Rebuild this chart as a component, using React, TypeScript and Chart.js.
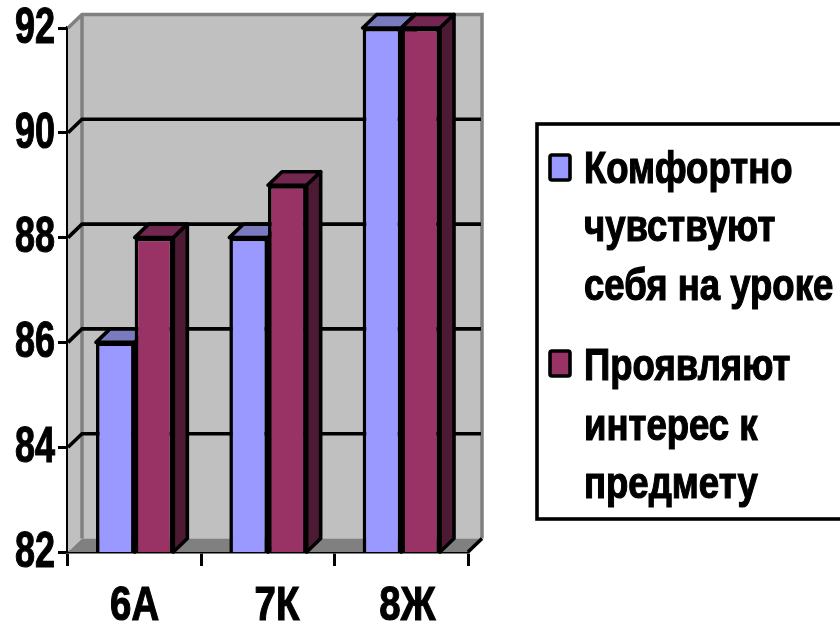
import React, { useEffect, useRef } from "react";
import { Chart, registerables } from "chart.js";

Chart.register(...registerables);

const categories = ["6А", "7К", "8Ж"];
const comfortValues = [86, 88, 92];
const interestValues = [88, 89, 92];
const comfortLines = ["Комфортно", "чувствуют", "себя на уроке"];
const interestLines = ["Проявляют", "интерес к", "предмету"];
const yTicks = [82, 84, 86, 88, 90, 92];

const FONT = '"Liberation Sans", Arial, sans-serif';
const DX = 14;
const DY = -13.5;
const LINE = 3.6;
const labelNudge = [0, 9, 6];

const topColors = ["#7A7ABF", "#732650"];
const sideColors = ["#4D1A33", "#4D1A33"];

function squeezedText(ctx: any, text: string, x: number, y: number, sx: number) {
  ctx.save();
  ctx.translate(x, y);
  ctx.scale(sx, 1);
  ctx.lineWidth = 1.2;
  ctx.strokeStyle = "#000";
  ctx.fillText(text, 0, 0);
  ctx.strokeText(text, 0, 0);
  ctx.restore();
}

const depthPlugin = {
  id: "depth",
  beforeDatasetsDraw(chart: any) {
    const { ctx, chartArea: a, scales } = chart;
    const y = scales.y;
    ctx.save();
    // walls
    ctx.fillStyle = "#C0C0C0";
    ctx.fillRect(a.left + DX, a.top + DY, a.width, a.height);
    ctx.beginPath();
    ctx.moveTo(a.left, a.top);
    ctx.lineTo(a.left + DX, a.top + DY);
    ctx.lineTo(a.left + DX, a.bottom + DY);
    ctx.lineTo(a.left, a.bottom);
    ctx.closePath();
    ctx.fill();
    // floor
    ctx.fillStyle = "#808080";
    ctx.beginPath();
    ctx.moveTo(a.left, a.bottom);
    ctx.lineTo(a.left + DX, a.bottom + DY);
    ctx.lineTo(a.right + DX, a.bottom + DY);
    ctx.lineTo(a.right, a.bottom);
    ctx.closePath();
    ctx.fill();
    // wall edges
    ctx.strokeStyle = "#808080";
    ctx.lineWidth = 3.5;
    ctx.beginPath();
    ctx.moveTo(a.left, a.top);
    ctx.lineTo(a.left + DX, a.top + DY);
    ctx.lineTo(a.right + DX, a.top + DY);
    ctx.lineTo(a.right + DX, a.bottom + DY);
    ctx.moveTo(a.left + DX, a.top + DY);
    ctx.lineTo(a.left + DX, a.bottom + DY);
    ctx.stroke();
    // grid
    ctx.strokeStyle = "#000";
    ctx.lineWidth = LINE;
    ctx.beginPath();
    yTicks.forEach((v) => {
      if (v === 82 || v === 92) return;
      const py = y.getPixelForValue(v);
      ctx.moveTo(a.left, py);
      ctx.lineTo(a.left + DX, py + DY);
      ctx.lineTo(a.right + DX - 1, py + DY);
    });
    ctx.moveTo(a.right, a.bottom);
    ctx.lineTo(a.right + DX, a.bottom + DY);
    ctx.stroke();
    // bar top and side faces
    ctx.lineJoin = "round";
    categories.forEach((_, i) => {
      [0, 1].forEach((d) => {
        const bar = chart.getDatasetMeta(d).data[i];
        const { x, y: top, width } = bar.getProps(["x", "y", "width"], true);
        const base = a.bottom;
        const l = x - width / 2;
        const r = x + width / 2;
        ctx.fillStyle = topColors[d];
        ctx.beginPath();
        ctx.moveTo(l, top);
        ctx.lineTo(l + DX, top + DY);
        ctx.lineTo(r + DX, top + DY);
        ctx.lineTo(r, top);
        ctx.closePath();
        ctx.fill();
        ctx.stroke();
        ctx.fillStyle = sideColors[d];
        ctx.beginPath();
        ctx.moveTo(r, top);
        ctx.lineTo(r + DX, top + DY);
        ctx.lineTo(r + DX, base + DY);
        ctx.lineTo(r, base);
        ctx.closePath();
        ctx.fill();
        ctx.stroke();
      });
    });
    ctx.restore();
  },
  afterDraw(chart: any) {
    const { ctx, scales } = chart;
    ctx.save();
    ctx.fillStyle = "#000";
    // axis labels, squeezed like the reference
    ctx.font = `bold 50px ${FONT}`;
    ctx.textBaseline = "middle";
    ctx.textAlign = "right";
    scales.y.ticks.forEach((t: any, i: number) => {
      squeezedText(ctx, String(t.label), 55, scales.y.getPixelForTick(i) + 1, 0.72);
    });
    ctx.font = `bold 48px ${FONT}`;
    ctx.textAlign = "center";
    scales.x.ticks.forEach((t: any, i: number) => {
      squeezedText(ctx, String(t.label), scales.x.getPixelForTick(i) + labelNudge[i], 607, 0.8);
    });
    // legend box
    ctx.fillStyle = "#fff";
    ctx.strokeStyle = "#000";
    ctx.lineWidth = LINE;
    ctx.fillRect(537, 124, 320, 395);
    ctx.strokeRect(537, 124, 320, 395);
    const groups = [
      { lines: comfortLines, box: 155, base: [183, 241, 300], color: chart.data.datasets[0].backgroundColor },
      { lines: interestLines, box: 351, base: [380, 440, 498], color: chart.data.datasets[1].backgroundColor },
    ];
    ctx.font = `bold 44px ${FONT}`;
    ctx.textBaseline = "alphabetic";
    ctx.textAlign = "left";
    groups.forEach((g) => {
      ctx.fillStyle = g.color;
      ctx.beginPath();
      ctx.roundRect(550, g.box, 20, 25, 2);
      ctx.fill();
      ctx.stroke();
      ctx.fillStyle = "#000";
      g.lines.forEach((t, i) => squeezedText(ctx, t, 584, g.base[i], 0.83));
    });
    ctx.restore();
  },
};

export default function App() {
  const ref = useRef<HTMLCanvasElement>(null);
  useEffect(() => {
    const chart = new Chart(ref.current!, {
      type: "bar",
      data: {
        labels: categories,
        datasets: [
          {
            label: comfortLines.join(" "),
            data: comfortValues,
            backgroundColor: "#9999FF",
            borderColor: "#000",
            borderWidth: LINE,
          },
          {
            label: interestLines.join(" "),
            data: interestValues,
            backgroundColor: "#993366",
            borderColor: "#000",
            borderWidth: LINE,
          },
        ],
      },
      options: {
        responsive: false,
        animation: false,
        devicePixelRatio: 1,
        layout: { padding: { left: 0, top: 28, right: 372, bottom: 0 } },
        datasets: { bar: { categoryPercentage: 0.58, barPercentage: 1 } },
        plugins: { legend: { display: false }, tooltip: { enabled: false }, title: { display: false } },
        scales: {
          x: {
            afterFit: (s: any) => {
              s.height = 73;
            },
            border: { color: "#000", width: LINE },
            grid: { drawOnChartArea: false, drawTicks: true, tickLength: 14, tickWidth: 3, tickColor: "#000" },
            ticks: { display: false },
          },
          y: {
            min: 82,
            max: 92,
            afterFit: (s: any) => {
              s.width = 68;
            },
            afterBuildTicks: (s: any) => {
              s.ticks = yTicks.map((value) => ({ value }));
            },
            border: { color: "#000", width: LINE },
            grid: { drawOnChartArea: false, drawTicks: true, tickLength: 10, tickWidth: 3, tickColor: "#000" },
            ticks: { display: false },
          },
        },
      },
      plugins: [depthPlugin],
    } as any);
    return () => chart.destroy();
  }, []);
  return (
    <canvas
      ref={ref}
      width={840}
      height={625}
      style={{ position: "absolute", left: 0, top: 0, display: "block" }}
    />
  );
}
